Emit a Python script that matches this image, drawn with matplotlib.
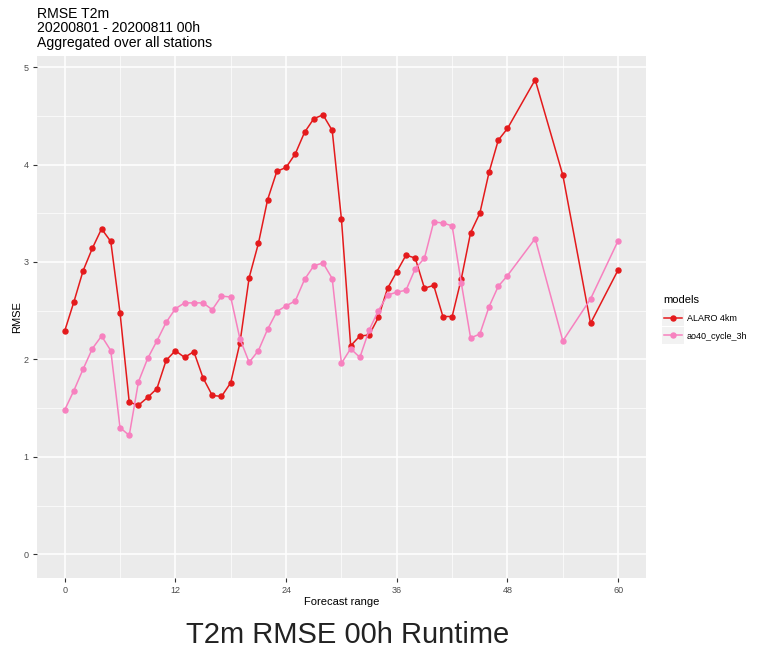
import matplotlib
matplotlib.use("Agg")
import matplotlib.pyplot as plt
from matplotlib.patches import Rectangle
from matplotlib.ticker import MultipleLocator

plt.rcParams['font.family'] = ['Liberation Sans', 'DejaVu Sans']

# forecast hours: hourly up to 48, then 3-hourly
hours = list(range(0, 49)) + [51, 54, 57, 60]

alaro_4km = [2.29, 2.59, 2.91, 3.14, 3.34, 3.21, 2.48, 1.56, 1.53, 1.61,
             1.70, 1.99, 2.09, 2.02, 2.08, 1.81, 1.63, 1.62, 1.76, 2.17,
             2.84, 3.19, 3.64, 3.93, 3.97, 4.11, 4.33, 4.47, 4.51, 4.35,
             3.44, 2.14, 2.24, 2.25, 2.43, 2.73, 2.90, 3.07, 3.04, 2.73,
             2.76, 2.44, 2.44, 2.83, 3.30, 3.50, 3.92, 4.25, 4.37,
             4.87, 3.89, 2.37, 2.92]

ao40_cycle_3h = [1.48, 1.68, 1.90, 2.11, 2.24, 2.09, 1.30, 1.22, 1.77, 2.01,
                 2.19, 2.38, 2.52, 2.58, 2.58, 2.58, 2.51, 2.65, 2.64, 2.21,
                 1.97, 2.09, 2.31, 2.49, 2.55, 2.60, 2.82, 2.96, 2.99, 2.83,
                 1.96, 2.11, 2.02, 2.30, 2.50, 2.66, 2.69, 2.71, 2.93, 3.04,
                 3.41, 3.40, 3.37, 2.78, 2.22, 2.26, 2.54, 2.75, 2.86,
                 3.24, 2.19, 2.62, 3.22]

models = ["ALARO 4km", "ao40_cycle_3h"]
colors = ["#E41A1C", "#F781BF"]

fig = plt.figure(figsize=(7.64, 6.5), dpi=100)
ax = fig.add_axes([0.0484, 0.1108, 0.797, 0.803])
ax.set_facecolor("#EBEBEB")

for name, vals, col in zip(models, [alaro_4km, ao40_cycle_3h], colors):
    ax.plot(hours, vals, color=col, lw=1.1, marker="o", ms=3.6,
            mec=col, mfc=col, label=name, zorder=3)

# ggplot style axes
ax.set_xlim(-3, 63)
ax.set_ylim(-0.2435, 5.1135)
ax.xaxis.set_major_locator(MultipleLocator(12))
ax.xaxis.set_minor_locator(MultipleLocator(6))
ax.yaxis.set_major_locator(MultipleLocator(1))
ax.yaxis.set_minor_locator(MultipleLocator(0.5))
ax.grid(which="major", color="white", lw=1.1)
ax.grid(which="minor", color="white", lw=0.5)
ax.set_axisbelow(True)
for s in ax.spines.values():
    s.set_visible(False)
ax.tick_params(which="major", length=3, color="#333333", labelsize=6.5,
               labelcolor="#4D4D4D", width=0.8, pad=3)
ax.tick_params(which="minor", length=0)

ax.set_xlabel("Forecast range", fontsize=8, labelpad=1)
ax.set_ylabel("RMSE", fontsize=8, labelpad=1)

fig.text(0.0484, 0.99, "RMSE T2m\n20200801 - 20200811 00h\nAggregated over all stations",
         ha="left", va="top", fontsize=10.1, linespacing=1.08)

leg = fig.legend(loc="upper left", bbox_to_anchor=(0.858, 0.558), frameon=False,
                 title="models", fontsize=6.5, title_fontsize=8,
                 handlelength=2.0, handletextpad=0.6, labelspacing=0.95,
                 alignment="left")

fig.text(0.455, 0.011, "T2m RMSE 00h Runtime", ha="center", va="baseline",
         fontsize=21, color="#222222")

# grey key boxes behind legend handles, like ggplot
fig.canvas.draw()
for h in leg.legend_handles:
    bb = h.get_window_extent(fig.canvas.get_renderer())
    cx, cy = (bb.x0 + bb.x1) / 2, (bb.y0 + bb.y1) / 2
    w, hgt = 22, 17
    fig.patches.append(Rectangle(((cx - w / 2) / 764, (cy - hgt / 2) / 650),
                                 w / 764, hgt / 650, transform=fig.transFigure,
                                 facecolor="#F2F2F2", edgecolor="none", zorder=0))

fig.savefig("out.png", dpi=100)
